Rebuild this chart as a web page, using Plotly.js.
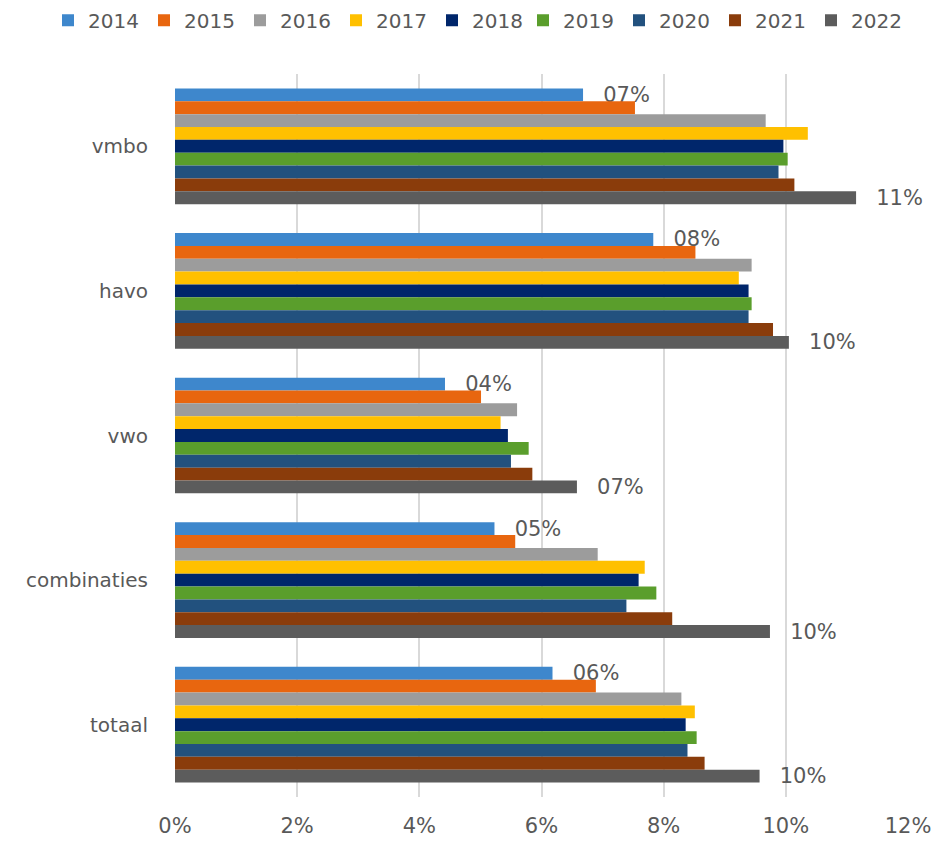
<!DOCTYPE html>
<html>
<head>
<meta charset="utf-8">
<script src="https://cdn.plot.ly/plotly-3.0.1.min.js"></script>
<style>html,body{margin:0;padding:0;background:#fff}#chart{width:937px;height:841px}</style>
</head>
<body>
<div id="chart"></div>
<script>
// Categories (top to bottom)
const categories = ["vmbo", "havo", "vwo", "combinaties", "totaal"];
const years = ["2014", "2015", "2016", "2017", "2018", "2019", "2020", "2021", "2022"];

// Values per year (fractions) for vmbo, havo, vwo, combinaties, totaal
const v2014 = [0.0668, 0.0783, 0.0442, 0.0523, 0.0618];
const v2015 = [0.0753, 0.0852, 0.0501, 0.0557, 0.0689];
const v2016 = [0.0967, 0.0944, 0.0560, 0.0692, 0.0829];
const v2017 = [0.1036, 0.0923, 0.0533, 0.0769, 0.0851];
const v2018 = [0.0996, 0.0939, 0.0545, 0.0759, 0.0836];
const v2019 = [0.1003, 0.0944, 0.0579, 0.0788, 0.0854];
const v2020 = [0.0988, 0.0939, 0.0550, 0.0739, 0.0839];
const v2021 = [0.1014, 0.0979, 0.0585, 0.0814, 0.0867];
const v2022 = [0.1115, 0.1005, 0.0658, 0.0974, 0.0957];

const seriesValues = [v2014, v2015, v2016, v2017, v2018, v2019, v2020, v2021, v2022];
const colors = ["#3E87CC", "#E8660F", "#9C9C9C", "#FFC000", "#00266B", "#5A9E2C", "#22517E", "#8A3C0B", "#5C5C5C"];
const labelledYears = ["2014", "2022"];

function fmtLabel(v) {
  const p = Math.round(v * 100);
  return "\u2002 " + (p < 10 ? "0" + p : String(p)) + "%";
}

const FONT = "DejaVu Sans, Noto Sans, sans-serif";
const GREY = "#595959";

const traces = years.map((yr, i) => {
  const t = {
    type: "bar",
    orientation: "h",
    name: yr,
    y: categories,
    x: seriesValues[i],
    marker: { color: colors[i], line: { width: 0 } },
    legend: i < 5 ? "legend" : "legend2",
    hoverinfo: "skip"
  };
  if (labelledYears.includes(yr)) {
    t.text = seriesValues[i].map(fmtLabel);
    t.textposition = "outside";
    t.textfont = { family: FONT, size: 21, color: GREY };
    t.cliponaxis = false;
    t.constraintext = "none";
  } else {
    t.textposition = "none";
  }
  return t;
});

function legendCfg(xPx) {
  return {
    orientation: "h",
    xref: "container",
    yref: "container",
    x: xPx / 937,
    xanchor: "left",
    y: 0.999,
    yanchor: "top",
    font: { family: FONT, size: 20, color: GREY },
    entrywidth: 51,
    entrywidthmode: "pixels",
    traceorder: "normal",
    itemclick: false,
    bgcolor: "rgba(0,0,0,0)"
  };
}

const layout = {
  width: 937,
  height: 841,
  paper_bgcolor: "#ffffff",
  plot_bgcolor: "#ffffff",
  margin: { l: 175, r: 29, t: 74, b: 44 },
  barmode: "group",
  bargap: 0.2,
  bargroupgap: 0,
  font: { family: FONT, color: GREY },
  showlegend: true,
  legend: legendCfg(48),
  legend2: legendCfg(523),
  xaxis: {
    range: [0, 0.12],
    dtick: 0.02,
    tick0: 0,
    tickformat: ".0%",
    showgrid: true,
    gridcolor: "#D9D9D9",
    gridwidth: 2,
    zeroline: false,
    showline: false,
    ticks: "",
    ticklabelstandoff: 14,
    tickfont: { family: FONT, size: 21, color: GREY },
    fixedrange: true
  },
  yaxis: {
    type: "category",
    autorange: "reversed",
    showgrid: false,
    zeroline: false,
    showline: false,
    ticks: "",
    ticklabelstandoff: 26,
    tickfont: { family: FONT, size: 20, color: GREY },
    fixedrange: true
  }
};

Plotly.newPlot("chart", traces, layout, { displayModeBar: false, staticPlot: true });
</script>
</body>
</html>
